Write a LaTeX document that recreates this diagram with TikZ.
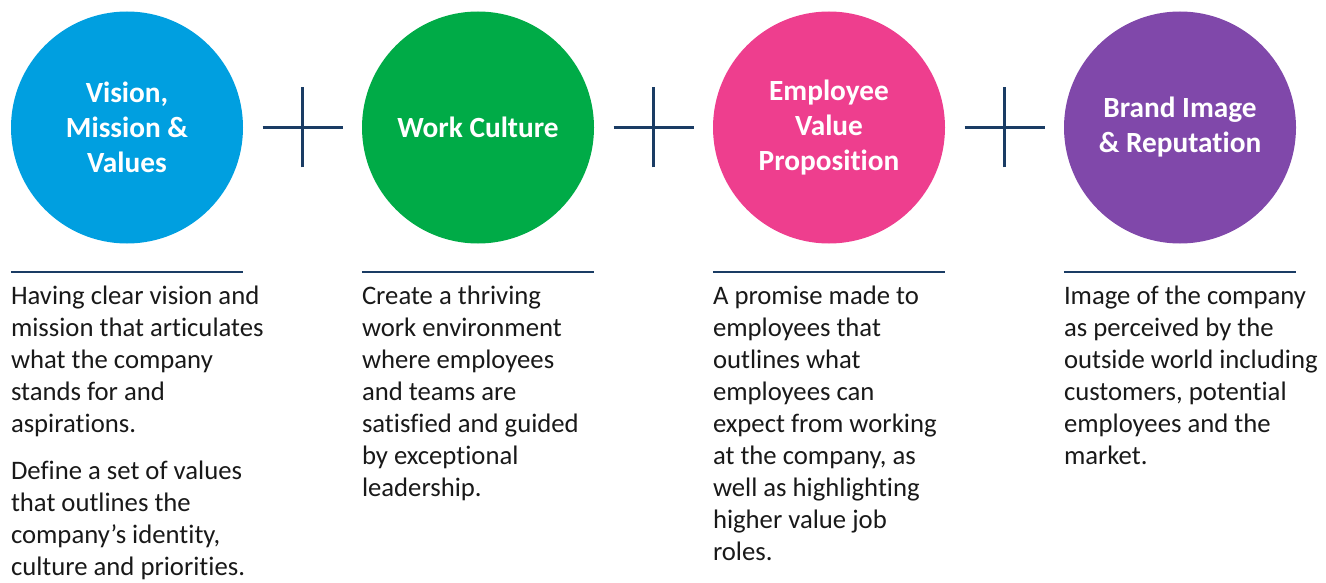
\documentclass[tikz,border=0pt]{standalone}
\usepackage{fontspec}
\setmainfont{Carlito}[Ligatures=NoCommon]
\usetikzlibrary{calc}
\definecolor{vblue}{HTML}{009FE0}
\definecolor{wgreen}{HTML}{00AB47}
\definecolor{epink}{HTML}{EE3E8E}
\definecolor{bpurple}{HTML}{8048AA}
\definecolor{navy}{HTML}{1A3C64}
\tikzset{
    pillar/.style={circle, minimum size=232pt, inner sep=0pt, text=white,
        align=center, font=\fontsize{29.3pt}{35pt}\selectfont\bfseries},
    rule/.style={navy, line width=2.6pt},
    plus/.style={navy, line width=2.2pt},
    desc/.style={anchor=north west, inner sep=0pt, align=left, text=black!90,
        font=\fontsize{26.7pt}{32pt}\selectfont}
}
\begin{document}
\begin{tikzpicture}[x=1pt, y=-1pt]
    \useasboundingbox (0,0) rectangle (1326,583);
    \def\R{127.5}  % circle row
    \def\L{272}    % rule row
    \def\T{286}    % text top

    % Circles
    \node[pillar, fill=vblue]   (vmv) at (127,\R)  {Vision,\\Mission \&\\Values};
    \node[pillar, fill=wgreen]  (wc)  at (478,\R)  {Work Culture};
    \node[pillar, fill=epink]   (evp) at (829,\R)  {Employee\\Value\\Proposition};
    \node[pillar, fill=bpurple] (bir) at (1180,\R) {Brand Image\\\& Reputation\vphantom{g}};

    % Plus signs
    \coordinate (p1) at ($(vmv)!0.5!(wc)$);
    \coordinate (p2) at ($(wc)!0.5!(evp)$);
    \coordinate (p3) at ($(evp)!0.5!(bir)$);
    \draw[plus] ([xshift=-40pt]p1) -- ([xshift=40pt]p1) ([yshift=-40pt]p1) -- ([yshift=40pt]p1);
    \draw[plus] ([xshift=-40pt]p2) -- ([xshift=40pt]p2) ([yshift=-40pt]p2) -- ([yshift=40pt]p2);
    \draw[plus] ([xshift=-40pt]p3) -- ([xshift=40pt]p3) ([yshift=-40pt]p3) -- ([yshift=40pt]p3);

    % Rules under circles
    \draw[rule] (vmv.west |- 0,\L) -- (vmv.east |- 0,\L);
    \draw[rule] (wc.west |- 0,\L)  -- (wc.east |- 0,\L);
    \draw[rule] (evp.west |- 0,\L) -- (evp.east |- 0,\L);
    \draw[rule] (bir.west |- 0,\L) -- (bir.east |- 0,\L);

    % Descriptions
    \node[desc] (vmvtext) at (vmv.west |- 0,\T) {Having clear vision and\\mission that articulates\\what the company\\stands for and\\aspirations.\\[15pt]Define a set of values\\that outlines the\\company’s identity,\\culture and priorities.};
    \node[desc] (wctext) at (wc.west |- 0,\T) {Create a thriving\\work environment\\where employees\\and teams are\\satisfied and guided\\by exceptional\\leadership.};
    \node[desc] (evptext) at (evp.west |- 0,\T) {A promise made to\\employees that\\outlines what\\employees can\\expect from working\\at the company, as\\well as highlighting\\higher value job\\roles.};
    \node[desc] (birtext) at (bir.west |- 0,\T) {Image of the company\\as perceived by the\\outside world including\\customers, potential\\employees and the\\market.};
\end{tikzpicture}
\end{document}
